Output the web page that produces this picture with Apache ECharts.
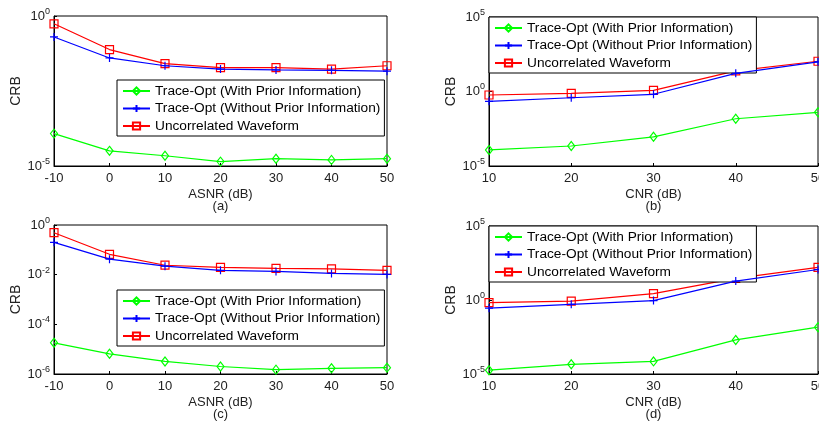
<!DOCTYPE html>
<html>
<head>
<meta charset="utf-8">
<script src="https://cdn.jsdelivr.net/npm/echarts@6/dist/echarts.min.js"></script>
<style>
html,body{margin:0;padding:0;background:#fff;}
#chart{width:819px;height:423px;}
</style>
</head>
<body>
<div id="chart"></div>
<script>
// x values
var asnr = [-10, 0, 10, 20, 30, 40, 50];
var cnr = [10, 20, 30, 40, 50];

// (a) CRB vs ASNR
var aWith = [1.2e-4, 3.2e-5, 2.2e-5, 1.4e-5, 1.75e-5, 1.6e-5, 1.75e-5];
var aWithout = [0.20, 0.040, 0.022, 0.017, 0.016, 0.0155, 0.0145];
var aUncorr = [0.55, 0.076, 0.026, 0.019, 0.019, 0.017, 0.022];

// (b) CRB vs CNR
var bWith = [1.2e-4, 2.2e-4, 9.1e-4, 0.0148, 0.040];
var bWithout = [0.22, 0.38, 0.65, 16.6, 98];
var bUncorr = [0.58, 0.76, 1.2, 24, 107];

// (c) CRB vs ASNR
var cWith = [1.8e-5, 6.5e-6, 3.2e-6, 2.0e-6, 1.5e-6, 1.7e-6, 1.8e-6];
var cWithout = [0.20, 0.042, 0.022, 0.015, 0.0135, 0.0112, 0.0102];
var cUncorr = [0.49, 0.066, 0.024, 0.0195, 0.018, 0.017, 0.015];

// (d) CRB vs CNR
var dWith = [1.8e-5, 4.5e-5, 7.1e-5, 2.0e-3, 0.0145];
var dWithout = [0.28, 0.51, 0.91, 19, 115];
var dUncorr = [0.66, 0.85, 2.7, 29, 158];

var names = ['Trace-Opt (With Prior Information)', 'Trace-Opt (Without Prior Information)', 'Uncorrelated Waveform'];
var colors = ['#00ff00', '#0000ff', '#ff0000'];
var symbols = ['diamond', 'path://M0,5L10,5M5,0L5,10', 'rect'];
var symbolSizes = [[7, 9], 8, 8];

var FONT = "'Liberation Sans', Arial, sans-serif";

var chart = echarts.init(document.getElementById('chart'));

var grids = [
	{left: 54, right: 432, top: 16, bottom: 257},
	{left: 489, right: 1, top: 17, bottom: 257},
	{left: 54, right: 432, top: 225, bottom: 49},
	{left: 489, right: 1, top: 226, bottom: 49}
];
grids.forEach(function(g){
	g.show = true;
	g.borderColor = '#000';
	g.borderWidth = 1;
	g.backgroundColor = '#fff';
	g.outerBoundsMode = 'none';
	g.containLabel = false;
});

function xAx(idx, min, max, name){
	return {
		type: 'value', gridIndex: idx, min: min, max: max, interval: 10,
		name: name, nameLocation: 'middle', nameGap: 22,
		nameTextStyle: {color: '#222', fontSize: 13, fontFamily: FONT, lineHeight: 12},
		axisLine: {show: true, onZero: false, lineStyle: {color: '#000', width: 1}},
		axisTick: {show: true, inside: true, length: 3, lineStyle: {color: '#000'}},
		axisLabel: {color: '#222', fontSize: 13, fontFamily: FONT, margin: 6, hideOverlap: false},
		splitLine: {show: false}
	};
}
function yAx(idx, min, max, interval){
	return {
		type: 'log', logBase: 10, gridIndex: idx, min: min, max: max, interval: interval,
		name: 'CRB', nameLocation: 'middle', nameGap: 31,
		nameTextStyle: {color: '#222', fontSize: 14, fontFamily: FONT},
		axisLine: {show: true, onZero: false, lineStyle: {color: '#000', width: 1}},
		axisTick: {show: true, inside: true, length: 3, lineStyle: {color: '#000'}},
		axisLabel: {
			margin: 4,
			formatter: function(v){
				var e = Math.round(Math.log(v) / Math.LN10);
				return '{b|10}{s|' + e + '}';
			},
			rich: {
				b: {color: '#222', fontSize: 13, fontFamily: FONT},
				s: {color: '#222', fontSize: 9, fontFamily: FONT, padding: [0, 0, 9, 0]}
			}
		},
		splitLine: {show: false},
		minorTick: {show: false}
	};
}

function makeSeries(idx, xs, arrs){
	return arrs.map(function(arr, k){
		return {
			name: names[k], type: 'line', xAxisIndex: idx, yAxisIndex: idx,
			data: xs.map(function(x, i){ return [x, arr[i]]; }),
			symbol: symbols[k], symbolSize: symbolSizes[k], showSymbol: true,
			lineStyle: {color: colors[k], width: 1.2},
			itemStyle: {color: 'rgba(255,255,255,0)', borderColor: colors[k], borderWidth: 1.2},
			z: 3 + (2 - k), animation: false
		};
	});
}

function legend(left, top){
	return {
		data: names, left: left, top: top, orient: 'vertical',
		backgroundColor: '#fff', borderColor: '#000', borderWidth: 1,
		padding: [4, 4, 3, 5], itemGap: 3.5, itemWidth: 27, itemHeight: 9,
		textStyle: {color: '#000', fontSize: 13.7, fontFamily: FONT},
		selectedMode: false
	};
}

var option = {
	animation: false,
	grid: grids,
	legend: [legend(117, 80), legend(489, 17), legend(117, 290), legend(489, 226)],
	xAxis: [
		xAx(0, -10, 50, 'ASNR (dB)\n(a)'),
		xAx(1, 10, 50, 'CNR (dB)\n(b)'),
		xAx(2, -10, 50, 'ASNR (dB)\n(c)'),
		xAx(3, 10, 50, 'CNR (dB)\n(d)')
	],
	yAxis: [
		yAx(0, 1e-5, 1, 5),
		yAx(1, 1e-5, 1e5, 5),
		yAx(2, 1e-6, 1, 2),
		yAx(3, 1e-5, 1e5, 5)
	],
	series: [].concat(
		makeSeries(0, asnr, [aWith, aWithout, aUncorr]),
		makeSeries(1, cnr, [bWith, bWithout, bUncorr]),
		makeSeries(2, asnr, [cWith, cWithout, cUncorr]),
		makeSeries(3, cnr, [dWith, dWithout, dUncorr])
	)
};
chart.setOption(option);
</script>
</body>
</html>
